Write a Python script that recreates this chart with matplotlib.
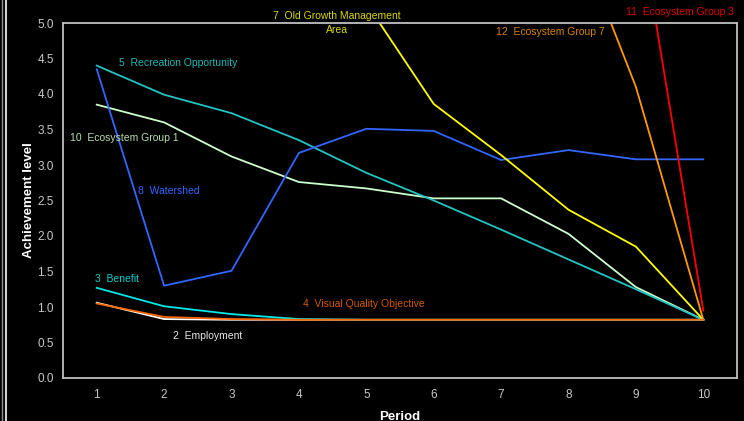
import matplotlib
matplotlib.use("Agg")
import matplotlib.pyplot as plt
from matplotlib.lines import Line2D

plt.rcParams['font.family'] = ['Liberation Sans', 'DejaVu Sans']

periods = [1, 2, 3, 4, 5, 6, 7, 8, 9, 10]

employment = [1.06, 0.83, 0.82, 0.82, 0.82, 0.82, 0.82, 0.82, 0.82, 0.82]
benefit = [1.27, 1.01, 0.90, 0.83, 0.82, 0.82, 0.82, 0.82, 0.82, 0.82]
visual_quality = [1.05, 0.86, 0.83, 0.82, 0.82, 0.82, 0.82, 0.82, 0.82, 0.82]
recreation = [4.40, 3.99, 3.73, 3.35, 2.89, 2.50, 2.09, 1.67, 1.25, 0.82]
old_growth = [7.6, 7.2, 6.6, 6.0, 5.28, 3.86, 3.14, 2.37, 1.85, 0.82]
watershed = [4.35, 1.30, 1.51, 3.17, 3.51, 3.48, 3.07, 3.21, 3.08, 3.08]
eco_group1 = [3.85, 3.60, 3.12, 2.76, 2.67, 2.53, 2.53, 2.03, 1.28, 0.82]
eco_group3 = [9.0, 8.8, 8.6, 8.4, 8.2, 8.0, 7.6, 7.2, 6.72, 0.95]
eco_group7 = [8.6, 8.4, 8.2, 8.0, 7.8, 7.5, 7.0, 6.53, 4.10, 0.82]

yticks = [0.0, 0.5, 1.0, 1.5, 2.0, 2.5, 3.0, 3.5, 4.0, 4.5, 5.0]

fig = plt.figure(figsize=(7.44, 4.21), dpi=100, facecolor='black')
ax = fig.add_axes([63/744, 1-378/421, (737-63)/744, (378-23)/421])
ax.set_facecolor('black')

lw = 1.3
series = [
    (eco_group1, '#ccffcc'),
    (recreation, '#22c4c4'),
    (watershed, '#3366ff'),
    (old_growth, '#ffff00'),
    (eco_group7, '#ff9900'),
    (eco_group3, '#ff0000'),
    (employment, '#ffffff'),
    (benefit, '#00e8e8'),
    (visual_quality, '#ff6600'),
]
for vals, col in series:
    ax.plot(periods, vals, color=col, lw=lw, solid_joinstyle='miter')

ax.set_xlim(0.5, 10.5)
ax.set_ylim(0, 5)
ax.set_xticks(periods)
ax.set_yticks(yticks)
ax.set_yticklabels([f"{v:.1f}" for v in yticks])
ax.tick_params(colors='#c8c8c8', labelsize=8.5, length=0)
ax.tick_params(axis='y', pad=6.5)
ax.tick_params(axis='x', pad=8)
for s in ax.spines.values():
    s.set_color('#c0c0c0')
    s.set_linewidth(1.3)

ax.set_xlabel('Period', color='white', fontsize=9.5, fontweight='bold', labelpad=7)
ax.set_ylabel('Achievement level', color='white', fontsize=9.5, fontweight='bold', labelpad=2)

fs = 7.5
def lab(x, y, s, c, **kw):
    ax.text(x, y, s, color=c, fontsize=fs, va='center', clip_on=False, **kw)

lab(1.33, 4.44, '5  Recreation Opportunity', '#22b8b8')
lab(0.60, 3.38, '10  Ecosystem Group 1', '#b8dcb0')
lab(1.62, 2.63, '8  Watershed', '#3366ff')
lab(0.97, 1.39, '3  Benefit', '#00d0d0')
lab(2.13, 0.59, '2  Employment', '#e8e8e8')
lab(4.06, 1.04, '4  Visual Quality Objective', '#d05a00')
lab(4.56, 5.0, '7  Old Growth Management\nArea', '#d8d800', ha='center', linespacing=1.55)
lab(6.93, 4.87, '12  Ecosystem Group 7', '#d88400')
lab(8.86, 5.15, '11  Ecosystem Group 3', '#dd0000')

fig.add_artist(Line2D([1.5/744, 1.5/744], [0, 1], color='#909090', lw=1, transform=fig.transFigure))
fig.add_artist(Line2D([5.5/744, 5.5/744], [0, 1], color='#ffffff', lw=1.2, transform=fig.transFigure))

fig.savefig('out.png', dpi=100, facecolor='black')
